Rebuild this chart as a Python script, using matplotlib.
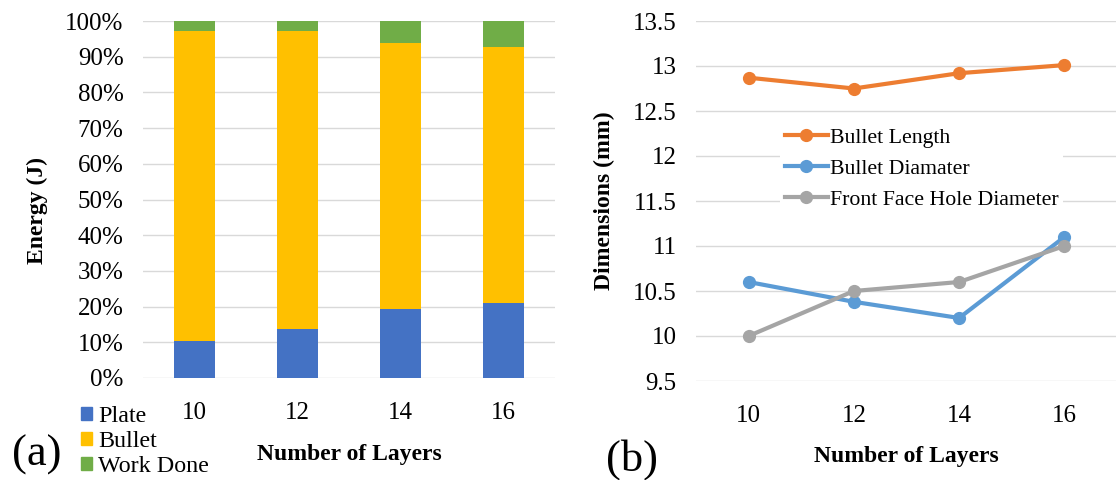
"""
stacked energy bars (a) and dimension lines (b) vs number of layers
"""
import numpy as np
import matplotlib
matplotlib.use("Agg")
import matplotlib.pyplot as plt
from matplotlib.patches import Patch
from matplotlib.ticker import PercentFormatter

# data
layers = ["10", "12", "14", "16"]
plate = [10.5, 13.6, 19.4, 21.0]
bullet = [86.6, 83.5, 74.3, 71.6]
work_done = [2.9, 2.9, 6.3, 7.4]

bullet_length = [12.87, 12.75, 12.92, 13.01]
bullet_diameter = [10.60, 10.38, 10.20, 11.10]
hole_diameter = [10.00, 10.50, 10.60, 11.00]

plt.rcParams["font.family"] = ["Liberation Serif", "DejaVu Serif"]
GRID = "#D9D9D9"
W, H = 1116, 480

fig = plt.figure(figsize=(W / 100, H / 100), dpi=100)

# ---- (a) stacked bars ----
ax1 = fig.add_axes([143 / W, (H - 378) / H, 412 / W, 357 / H])
x = np.arange(len(layers))
bw = 0.4
b1 = np.array(plate)
b2 = b1 + np.array(bullet)
ax1.bar(x, plate, bw, color="#4472C4", zorder=2)
ax1.bar(x, bullet, bw, bottom=b1, color="#FFC000", zorder=2)
ax1.bar(x, work_done, bw, bottom=b2, color="#70AD47", zorder=2)
ax1.set_xlim(-0.5, 3.5)
ax1.set_ylim(0, 100)
ax1.set_yticks(np.arange(0, 101, 10))
ax1.yaxis.set_major_formatter(PercentFormatter(decimals=0))
ax1.set_xticks(x, layers)
ax1.grid(axis="y", color=GRID, linewidth=1, zorder=0)
ax1.set_ylabel("Energy (J)", fontsize=17, fontweight="bold")
ax1.yaxis.set_label_coords(-0.23, 0.47)
ax1.set_xlabel("Number of Layers", fontsize=17, fontweight="bold")
ax1.xaxis.set_label_coords(0.5, -0.185)

leg1 = fig.legend(handles=[Patch(color="#4472C4", label="Plate"),
                           Patch(color="#FFC000", label="Bullet"),
                           Patch(color="#70AD47", label="Work Done")],
                  loc="upper left", bbox_to_anchor=(81 / W, 1 - 406 / H),
                  frameon=False, fontsize=17.3, handlelength=0.45, handleheight=0.45,
                  handletextpad=0.25, labelspacing=0.17, borderpad=0, borderaxespad=0)

# ---- (b) lines ----
ax2 = fig.add_axes([696 / W, (H - 381) / H, (W - 696) / W, 360 / H])
ax2.plot(x, bullet_length, "-o", color="#ED7D31", lw=3, ms=8.5, label="Bullet Length", zorder=3)
ax2.plot(x, bullet_diameter, "-o", color="#5B9BD5", lw=3, ms=8.5, label="Bullet Diamater", zorder=3)
ax2.plot(x, hole_diameter, "-o", color="#A5A5A5", lw=3, ms=8.5, label="Front Face Hole Diameter", zorder=3)
ax2.set_xlim(-0.5, 3.5 - 4 / 424)
ax2.set_ylim(9.5, 13.5)
ax2.set_yticks(np.arange(9.5, 13.51, 0.5))
ax2.set_yticklabels(["9.5", "10", "10.5", "11", "11.5", "12", "12.5", "13", "13.5"])
ax2.set_xticks(x, layers)
ax2.grid(axis="y", color=GRID, linewidth=1, zorder=0)
ax2.set_ylabel("Dimensions (mm)", fontsize=17, fontweight="bold")
ax2.yaxis.set_label_coords(-0.193, 0.5)
ax2.set_xlabel("Number of Layers", fontsize=17, fontweight="bold")
ax2.xaxis.set_label_coords(0.5, -0.18)

leg2 = ax2.legend(loc="upper left", bbox_to_anchor=((781 - 696) / 424, (381 - 123) / 360),
                  fontsize=15.7, frameon=True, framealpha=1, edgecolor="none",
                  facecolor="white", fancybox=False, handlelength=2.0,
                  handletextpad=0.1, labelspacing=0.5, borderpad=0.2, borderaxespad=0)
leg2.set_zorder(5)

for ax in (ax1, ax2):
    for s in ax.spines.values():
        s.set_visible(False)
    ax.tick_params(length=0, labelsize=18)
    ax.tick_params(axis="y", pad=14)
    ax.tick_params(axis="x", pad=17)

fig.text(12 / W, 1 - 455 / H, "(a)", fontsize=32, va="center", ha="left")
fig.text(606 / W, 1 - 460 / H, "(b)", fontsize=32, va="center", ha="left")

fig.savefig("out.png", dpi=100)
